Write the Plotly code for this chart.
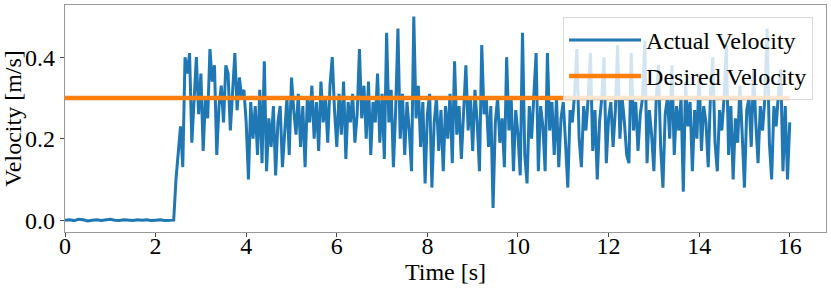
import numpy as np
import plotly.graph_objects as go

# idle phase (robot standing still), sampled every 0.1 s from 0 to 2.4 s
idle_vel = [0.000, 0.001, -0.001, 0.002, 0.001, -0.002, 0.000, 0.001, -0.001, 0.000,
            0.002, 0.000, -0.001, 0.001, 0.000, -0.001, 0.001, 0.000, 0.001, -0.001,
            0.000, 0.001, -0.001, 0.000, 0.000]

# moving phase, sampled every 0.05 s starting at 2.45 s
move_vel = [
    0.10, 0.16, 0.23, 0.13, 0.40, 0.36, 0.41, 0.19, 0.31, 0.40, 0.26,
    0.36, 0.17, 0.30, 0.25, 0.42, 0.34, 0.38, 0.16, 0.28, 0.33, 0.24, 0.38, 0.36, 0.22, 0.32, 0.41, 0.27, 0.35, 0.30, 0.32,
    0.24, 0.10, 0.29, 0.20, 0.28, 0.16, 0.32, 0.14, 0.39, 0.12, 0.25, 0.18, 0.28, 0.11, 0.24, 0.28, 0.13, 0.22, 0.30, 0.16,
    0.35, 0.27, 0.21, 0.31, 0.18, 0.28, 0.13, 0.30, 0.24, 0.33, 0.20, 0.29, 0.17, 0.34, 0.24, 0.30, 0.19, 0.33, 0.40, 0.27,
    0.18, 0.31, 0.21, 0.34, 0.15, 0.29, 0.24, 0.31, 0.19, 0.26, 0.42, 0.25, 0.33, 0.20, 0.34, 0.16, 0.29, 0.24, 0.36, 0.19,
    0.31, 0.15, 0.46, 0.24, 0.32, 0.13, 0.27, 0.47, 0.20, 0.31, 0.16, 0.29, 0.22, 0.12, 0.50, 0.25, 0.33, 0.18, 0.29, 0.09,
    0.26, 0.31, 0.08, 0.24, 0.30, 0.17, 0.27, 0.12, 0.28, 0.20, 0.31, 0.14, 0.39, 0.21, 0.28, 0.15, 0.26, 0.38, 0.22, 0.30,
    0.17, 0.32, 0.24, 0.12, 0.43, 0.26, 0.30, 0.18, 0.28, 0.03, 0.24, 0.30, 0.19, 0.25, 0.13, 0.40, 0.22, 0.30, 0.12, 0.27,
    0.21, 0.11, 0.46, 0.16, 0.09, 0.28, 0.20, 0.30, 0.41, 0.12, 0.28, 0.23, 0.12, 0.41, 0.22, 0.29, 0.16, 0.30, 0.13, 0.25,
    0.29, 0.19, 0.08, 0.27, 0.24, 0.31, 0.42, 0.20, 0.13, 0.28, 0.22, 0.30, 0.41, 0.17, 0.27, 0.10, 0.24, 0.30, 0.40, 0.14,
    0.25, 0.29, 0.18, 0.27, 0.43, 0.20, 0.30, 0.24, 0.16, 0.14, 0.41, 0.22, 0.29, 0.17, 0.26, 0.30, 0.44, 0.14, 0.27, 0.21,
    0.12, 0.29, 0.38, 0.18, 0.08, 0.26, 0.30, 0.20, 0.38, 0.16, 0.28, 0.22, 0.30, 0.07, 0.34, 0.23, 0.29, 0.12, 0.27, 0.20,
    0.36, 0.17, 0.28, 0.24, 0.13, 0.31, 0.40, 0.19, 0.12, 0.27, 0.22, 0.30, 0.43, 0.16, 0.28, 0.10, 0.25, 0.19, 0.33, 0.21,
    0.08, 0.27, 0.30, 0.18, 0.37, 0.24, 0.14, 0.28, 0.22, 0.30, 0.47, 0.19, 0.10, 0.28, 0.23, 0.31, 0.37, 0.12, 0.28, 0.10,
    0.24,
]

desired_time = [0, 16]
desired_vel = [0.3, 0.3]

x_ticks = [0, 2, 4, 6, 8, 10, 12, 14, 16]
y_ticks = [0.0, 0.2, 0.4]

idle_time = list(np.round(np.arange(len(idle_vel)) * 0.1, 3))
move_time = list(np.round(2.45 + np.arange(len(move_vel)) * 0.05, 3))
time = idle_time + move_time
vel = idle_vel + move_vel

FONT = "Liberation Serif, Times New Roman, serif"
FS = 24

fig = go.Figure()
fig.add_trace(go.Scatter(x=time, y=vel, mode="lines", name="Actual Velocity",
                         line=dict(color="#1f77b4", width=3), legendgroup="a"))
fig.add_trace(go.Scatter(x=desired_time, y=desired_vel, mode="lines", name="Desired Velocity",
                         line=dict(color="#ff7f0e", width=4.5), legendgroup="b"))

axis_common = dict(showgrid=False, zeroline=False, showline=True, mirror=True,
                   linecolor="#999999", linewidth=1.2, ticks="outside", ticklen=4,
                   tickcolor="#444", automargin=False,
                   tickfont=dict(family=FONT, size=FS, color="black"))

fig.update_layout(
    width=831, height=289,
    margin=dict(l=65, r=5, t=5, b=57),
    plot_bgcolor="white", paper_bgcolor="white",
    font=dict(family=FONT, size=FS, color="black"),
    xaxis=dict(range=[0, 16.8], tickvals=x_ticks, ticktext=[str(v) for v in x_ticks],
               ticklabelstandoff=-12,
               title=dict(text="Time [s]", font=dict(family=FONT, size=FS), standoff=5),
               **axis_common),
    yaxis=dict(range=[-0.029, 0.528], tickvals=y_ticks, ticktext=[f"{v:.1f}" for v in y_ticks],
               title=dict(text="Velocity [m/s]", font=dict(family=FONT, size=FS), standoff=2),
               **axis_common),
    legend=dict(x=0.983, y=0.948, xanchor="right", yanchor="top",
                bgcolor="rgba(255,255,255,0.8)", bordercolor="#d9d9d9", borderwidth=1,
                font=dict(family=FONT, size=FS), tracegroupgap=2, itemwidth=72),
    showlegend=True,
)

fig.write_html("out.html", config={"displayModeBar": False},
               post_script="document.body.style.margin='0';document.body.style.padding='0';")
